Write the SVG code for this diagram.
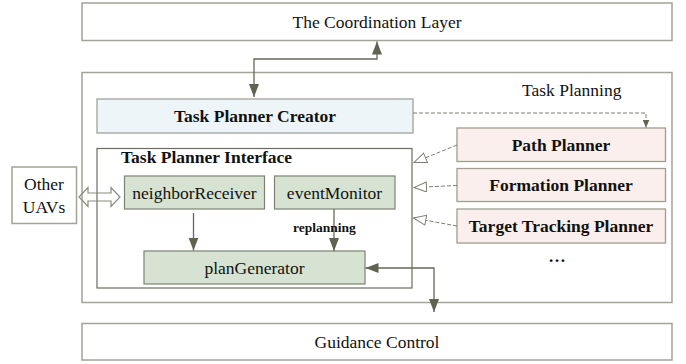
<svg xmlns="http://www.w3.org/2000/svg" width="686" height="364" viewBox="0 0 686 364">
<style>
text{font-family:"Liberation Serif","Times New Roman",serif;font-size:17.5px;fill:#111;}
.b{font-weight:bold;}
.c{text-anchor:middle;}
.outer{fill:#fff;stroke:#a3a396;stroke-width:1.5;}
.iface{fill:none;stroke:#6b6e5c;stroke-width:1.2;}
.green{fill:#d6e3d2;stroke:#7d8270;stroke-width:1.2;}
.pink{fill:#fbefed;stroke:#9d9d90;stroke-width:1.3;}
.blue{fill:#edf5f8;stroke:#9ea39a;stroke-width:1.3;}
.solid{fill:none;stroke:#656957;stroke-width:1.3;}
.dash{fill:none;stroke:#7c7f70;stroke-width:1;stroke-dasharray:4 2;}
</style>
<defs>
<marker id="ah" markerUnits="userSpaceOnUse" markerWidth="14" markerHeight="11" refX="13" refY="5" orient="auto-start-reverse">
<path d="M0,0 L13,5 L0,10 Z" fill="#5f6350"/>
</marker>
<marker id="ahs" markerUnits="userSpaceOnUse" markerWidth="9" markerHeight="8" refX="8" refY="3.5" orient="auto">
<path d="M0,0 L8,3.5 L0,7 Z" fill="#5f6350"/>
</marker>
<marker id="tri" markerUnits="userSpaceOnUse" markerWidth="14" markerHeight="12" refX="13" refY="5.5" orient="auto">
<path d="M0.5,0.5 L13,5.5 L0.5,10.5 Z" fill="#fff" stroke="#7c7f70" stroke-width="1"/>
</marker>
</defs>

<g id="coordination">
<rect class="outer" x="82" y="3" width="590" height="37.5"/>
<text class="c" x="377" y="28">The Coordination Layer</text>
</g>

<g id="task-planning">
<rect class="outer" x="82" y="72.5" width="590" height="230"/>
<text x="522" y="96">Task Planning</text>
</g>

<g id="guidance">
<rect class="outer" x="82" y="323.5" width="590" height="36.5"/>
<text class="c" x="377" y="348">Guidance Control</text>
</g>

<g id="other-uavs">
<rect class="outer" x="12" y="167" width="64.5" height="56.5"/>
<text class="c" x="44" y="190">Other</text>
<text class="c" x="44" y="213">UAVs</text>
</g>

<g id="creator">
<rect class="blue" x="97" y="99" width="316" height="34"/>
<text class="c b" x="255" y="122">Task Planner Creator</text>
</g>

<g id="interface">
<rect class="iface" x="97" y="148.5" width="315" height="139.5"/>
<text class="b" x="121" y="163">Task Planner Interface</text>
</g>

<g id="neighborReceiver">
<rect class="green" x="124.5" y="176" width="140" height="33"/>
<text class="c" x="194.5" y="198.5">neighborReceiver</text>
</g>

<g id="eventMonitor">
<rect class="green" x="274.5" y="176" width="120.5" height="33"/>
<text class="c" x="334.5" y="198.5">eventMonitor</text>
</g>

<g id="planGenerator">
<rect class="green" x="144" y="251" width="221" height="33"/>
<text class="c" x="254.5" y="273.5">planGenerator</text>
</g>

<g id="path-planner">
<rect class="pink" x="457" y="128" width="208.5" height="33.5"/>
<text class="c b" x="561" y="151">Path Planner</text>
</g>

<g id="formation-planner">
<rect class="pink" x="457" y="168.5" width="208.5" height="33"/>
<text class="c b" x="561" y="191">Formation Planner</text>
</g>

<g id="target-planner">
<rect class="pink" x="457" y="209" width="208.5" height="34"/>
<text class="c b" x="561" y="232">Target Tracking Planner</text>
</g>

<g id="more">
<text class="c b" x="557" y="262">…</text>
</g>

<g id="connectors">
<path class="solid" d="M254,97 L254,59 L377,59 L377,41.5" marker-start="url(#ah)" marker-end="url(#ah)"/>
<path class="solid" d="M365.5,268 L434,268 L434,312" marker-start="url(#ah)" marker-end="url(#ah)"/>
<path class="solid" d="M193.5,213 L193.5,250.5" marker-end="url(#ah)"/>
<path class="solid" d="M334,209 L334,251" marker-end="url(#ah)"/>
<text class="b" x="293" y="232" style="font-size:13.5px">replanning</text>
<path class="dash" d="M413,113 L646,113 L646,127.5" marker-end="url(#ahs)"/>
<path class="dash" d="M457,145 L414,162.5" marker-end="url(#tri)"/>
<path class="dash" d="M457,185.5 L414,187.5" marker-end="url(#tri)"/>
<path class="dash" d="M457,226 L413.5,218" marker-end="url(#tri)"/>
<path d="M79,197 L88,187.5 L88,193 L111,193 L111,187.5 L120,197 L111,206.5 L111,201 L88,201 L88,206.5 Z" fill="none" stroke="#8a8c7c" stroke-width="1.2"/>
</g>
</svg>
